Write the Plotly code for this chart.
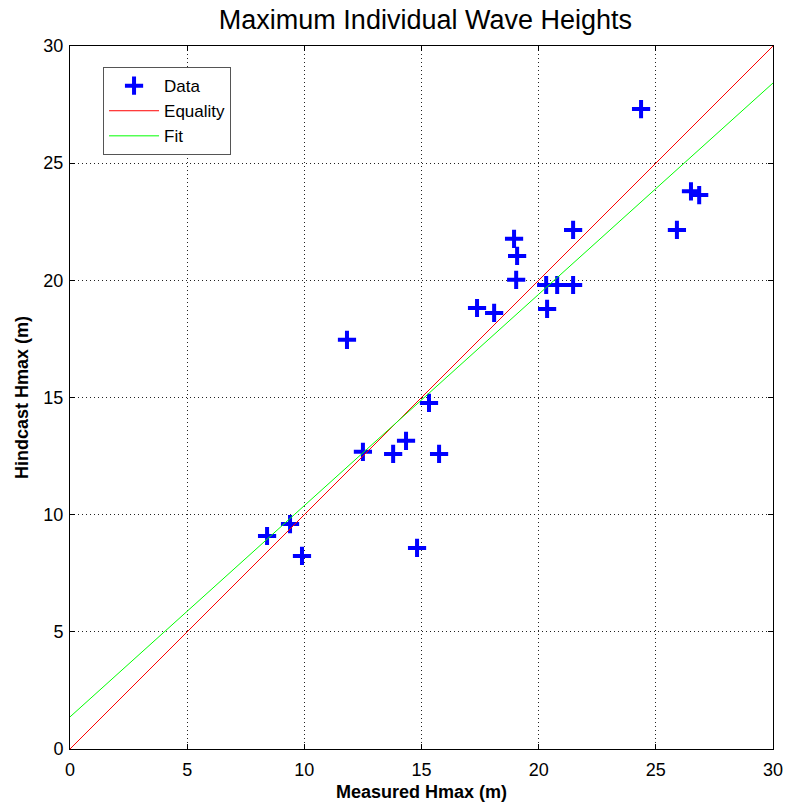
import plotly.graph_objects as go

measured = [8.41, 9.39, 9.90, 11.82, 12.50, 13.79, 14.34, 14.81, 15.32, 15.75,
            17.37, 18.10, 18.95, 19.08, 19.04, 20.32, 20.79, 21.47, 20.36, 21.47,
            24.37, 26.50, 26.85, 25.90]
hindcast = [9.09, 9.60, 8.24, 17.46, 12.68, 12.59, 13.15, 8.58, 14.77, 12.59,
            18.82, 18.61, 21.77, 21.04, 20.02, 19.80, 19.80, 19.80, 18.78, 22.15,
            27.31, 23.80, 23.64, 22.15]
line_x = [0, 30]
fit_slope = 0.9017
fit_intercept = 1.37
tick_vals = [0, 5, 10, 15, 20, 25, 30]

fig = go.Figure()
fig.add_trace(go.Scatter(x=measured, y=hindcast, mode="markers", name="Data",
                         marker=dict(symbol="cross-thin", size=13,
                                     line=dict(color="#0000ff", width=4), color="#0000ff")))
fig.add_trace(go.Scatter(x=line_x, y=line_x, mode="lines", name="Equality",
                         line=dict(color="#ff0000", width=1)))
fig.add_trace(go.Scatter(x=line_x, y=[fit_intercept + fit_slope * v for v in line_x],
                         mode="lines", name="Fit", line=dict(color="#00ff00", width=1)))

axis_common = dict(range=[0, 30], tickvals=tick_vals, showgrid=True,
                   gridcolor="#222222", griddash="1px,3px", gridwidth=1,
                   showline=True, linecolor="black", linewidth=1, mirror="ticks",
                   ticks="inside", ticklen=5, tickcolor="black", zeroline=False,
                   automargin=False,
                   tickfont=dict(size=18, color="black"))

fig.update_layout(
    width=788, height=808,
    margin=dict(l=70, r=15, t=46, b=59),
    paper_bgcolor="white", plot_bgcolor="white",
    font=dict(family="Liberation Sans, Arial, sans-serif", color="black"),
    title=dict(text="Maximum Individual Wave Heights", x=(70 + 773) / 2 / 788 + 0.005, xanchor="center",
               y=1 - 20 / 808, yanchor="middle", font=dict(size=27, color="black")),
    xaxis=dict(**axis_common, ticklabelstandoff=4,
               title=dict(text="<b>Measured Hmax (m)</b>", font=dict(size=18), standoff=6)),
    yaxis=dict(**axis_common, ticklabelstandoff=2,
               title=dict(text="<b>Hindcast Hmax (m)</b>", font=dict(size=18), standoff=10)),
    legend=dict(x=0.047, y=0.97, xanchor="left", yanchor="top",
                bgcolor="white", bordercolor="#555555", borderwidth=1,
                font=dict(size=17, color="black"), itemwidth=50, tracegroupgap=0),
    showlegend=True,
)

fig.write_html("out.html")
